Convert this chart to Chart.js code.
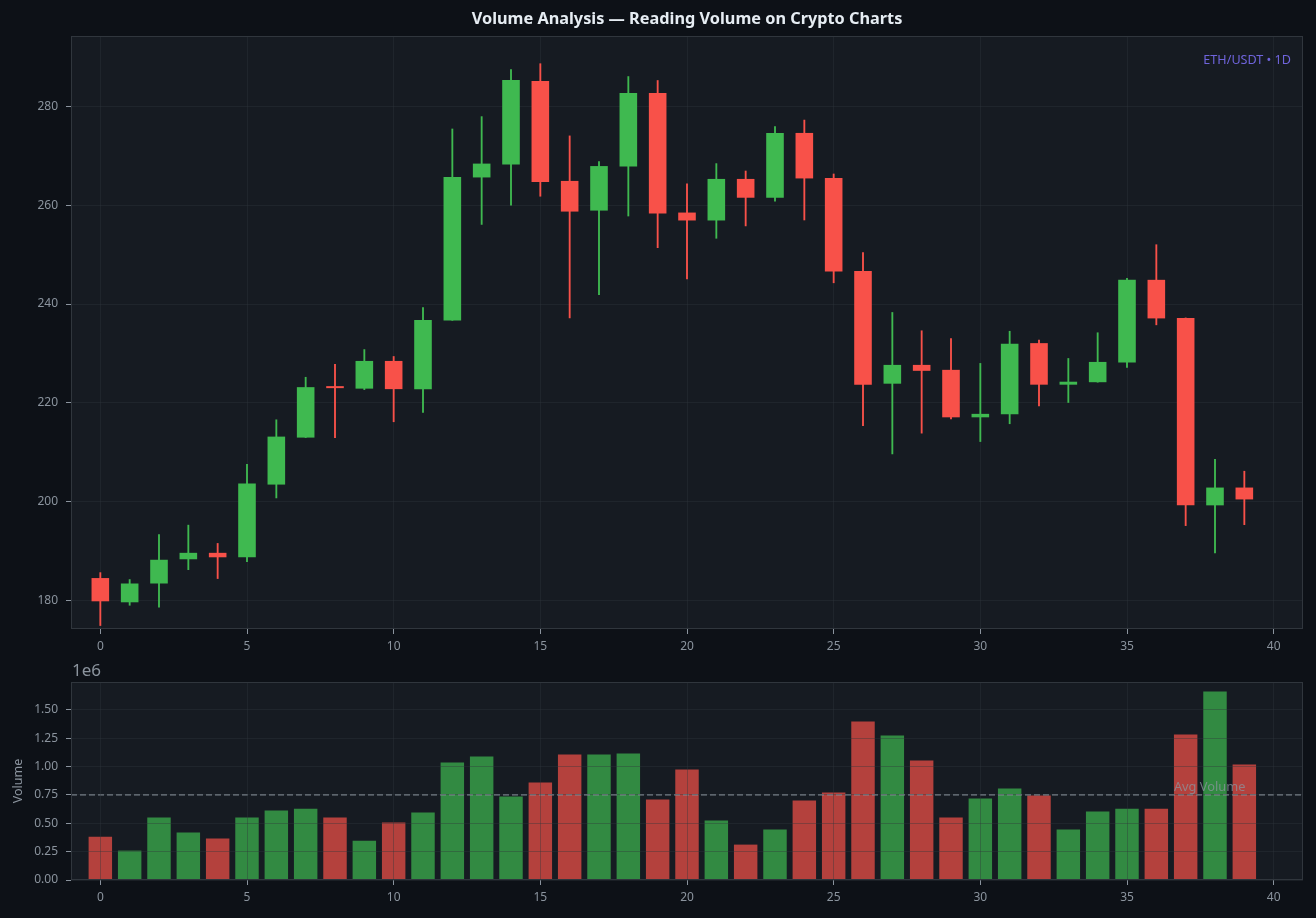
<!DOCTYPE html>
<html><head><meta charset="utf-8">
<script src="https://cdn.jsdelivr.net/npm/chart.js@4.4.1/dist/chart.umd.min.js"></script>
<style>
html,body{margin:0;padding:0;background:#0d1117;}
#wrap{position:relative;width:1316px;height:918px;background:#0d1117;overflow:hidden}
canvas{position:absolute;left:0}
</style></head><body>
<div id="wrap">
<canvas id="c1" width="1316" height="650" style="top:0"></canvas>
<canvas id="c2" width="1316" height="268" style="top:650px"></canvas>
</div>
<script>
const days = [0,1,2,3,4,5,6,7,8,9,10,11,12,13,14,15,16,17,18,19,20,21,22,23,24,25,26,27,28,29,30,31,32,33,34,35,36,37,38,39];
const opens  = [184.6,179.7,183.5,188.4,189.7,188.8,203.5,213.0,223.3,222.9,228.5,222.8,236.7,265.6,268.2,285.1,264.9,258.9,267.8,282.7,
                258.5,256.9,265.3,261.5,274.6,265.5,246.7,223.9,227.7,226.7,217.1,217.7,232.1,223.7,224.2,228.2,244.9,237.2,199.3,202.9];
const closes = [179.9,183.5,188.3,189.7,188.8,203.7,213.2,223.2,223.0,228.5,222.8,236.8,265.7,268.4,285.3,264.7,258.7,267.9,282.7,258.3,
                256.9,265.3,261.5,274.6,265.4,246.6,223.7,227.7,226.5,217.1,217.8,232.0,223.7,224.3,228.3,244.9,237.1,199.3,202.9,200.5];
const highs  = [185.7,184.3,193.4,195.3,191.6,207.6,216.6,225.2,227.8,230.8,229.4,239.3,275.4,277.9,287.4,288.6,274.0,268.8,286.0,285.2,
                264.3,268.4,266.9,275.9,277.2,266.3,250.4,238.3,234.6,233.0,228.0,234.5,232.7,229.0,234.2,245.2,252.0,237.2,208.6,206.2];
const lows   = [175.0,179.1,178.7,186.3,184.5,187.9,200.8,213.0,213.0,222.7,216.2,218.1,236.7,256.1,260.0,261.8,237.2,241.9,257.8,251.4,
                245.1,253.3,255.8,260.8,257.0,244.3,215.4,209.7,213.9,216.8,212.2,215.8,219.4,220.1,224.2,227.2,235.8,195.2,189.7,195.4];
const volumes = [382000,259000,550000,418000,365000,550000,612000,629000,550000,347000,506000,594000,1035000,1088000,735000,859000,1106000,1106000,1115000,709000,
                 974000,524000,312000,444000,700000,771000,1397000,1274000,1053000,550000,718000,806000,745000,444000,603000,629000,629000,1282000,1662000,1018000];
const priceTicks = [180,200,220,240,260,280];
const volumeTicks = [0,250000,500000,750000,1000000,1250000,1500000];
const dayTicks = [0,5,10,15,20,25,30,35,40];

const UP = '#3fb950', DOWN = '#f85149';
const UP_V = 'rgba(63,185,80,0.7)', DOWN_V = 'rgba(248,81,73,0.7)';
const FONT = '"Noto Sans", "DejaVu Sans", sans-serif';
const TICK_C = '#8b949e';
const GRID_C = 'rgba(48,54,61,0.38)';
const isUp = days.map((d,i)=>closes[i] >= opens[i]);
const candleColors = isUp.map(u => u ? UP : DOWN);
const volColors = isUp.map(u => u ? UP_V : DOWN_V);
const avgVol = volumes.reduce((a,b)=>a+b,0)/volumes.length;

const framePlugin = {
  id:'frame',
  beforeDraw(chart){
    const {ctx, chartArea:a} = chart;
    ctx.save();
    ctx.fillStyle = '#0d1117';
    ctx.fillRect(0,0,chart.width,chart.height);
    ctx.fillStyle = '#161b22';
    ctx.fillRect(a.left,a.top,a.right-a.left,a.bottom-a.top);
    ctx.restore();
  },
  afterDraw(chart){
    const {ctx, chartArea:a} = chart;
    ctx.save();
    ctx.strokeStyle = '#30363d';
    ctx.lineWidth = 1;
    ctx.strokeRect(a.left+0.5,a.top+0.5,a.right-a.left-1,a.bottom-a.top-1);
    ctx.restore();
  }
};

const tickSet = (vals) => function(scale){ scale.ticks = vals.map(v=>({value:v})); };

function gridOpts(z){
  return {color:GRID_C, tickColor:TICK_C, tickLength:5, lineWidth:1, offset:false, z:z};
}

function xScale(heightPx, z){
  return {
    type:'linear', min:-1, max:41, offset:false,
    afterBuildTicks: tickSet(dayTicks),
    ticks:{color:TICK_C, font:{size:12, family:FONT}, padding:5, callback:v=>String(v), maxRotation:0, autoSkip:false},
    grid:gridOpts(z),
    border:{display:false},
    afterFit(s){ s.height = heightPx; }
  };
}

const textPlugin1 = {
  id:'texts1',
  afterDraw(chart){
    const {ctx, chartArea:a} = chart;
    ctx.save();
    ctx.fillStyle = '#e6edf3';
    ctx.font = 'bold 16.3px ' + FONT;
    ctx.textAlign = 'center';
    ctx.textBaseline = 'middle';
    ctx.fillText('Volume Analysis — Reading Volume on Crypto Charts', (a.left+a.right)/2, 19);
    ctx.fillStyle = '#6f64dc';
    ctx.font = '12.6px ' + FONT;
    ctx.textAlign = 'right';
    ctx.fillText('ETH/USDT • 1D', a.right - 12, 60);
    ctx.restore();
  }
};

new Chart(document.getElementById('c1'), {
  type:'bar',
  data:{datasets:[
    {label:'Body', data: days.map((d,i)=>({x:d, y:[opens[i], closes[i]]})), backgroundColor:candleColors,
     barPercentage:0.6, categoryPercentage:1, grouped:false, minBarLength:2, order:1},
    {label:'Wick', data: days.map((d,i)=>({x:d, y:[lows[i], highs[i]]})), backgroundColor:candleColors,
     barThickness:1.2, grouped:false, order:2}
  ]},
  options:{
    responsive:false, animation:false, devicePixelRatio:1,
    layout:{padding:{top:36, right:13, left:0, bottom:0}},
    plugins:{legend:{display:false}, tooltip:{enabled:false}, title:{display:false}},
    scales:{
      x: xScale(21, -1),
      y:{
        min:174.3, max:294.2,
        afterBuildTicks: tickSet(priceTicks),
        ticks:{color:TICK_C, font:{size:12, family:FONT}, padding:8, callback:v=>String(v)},
        grid:gridOpts(-1),
        border:{display:false},
        afterFit(s){ s.width = 71; }
      }
    }
  },
  plugins:[framePlugin, textPlugin1]
});

const textPlugin2 = {
  id:'texts2',
  afterDraw(chart){
    const {ctx, chartArea:a, scales} = chart;
    ctx.save();
    ctx.fillStyle = TICK_C;
    ctx.font = '17px ' + FONT;
    ctx.textAlign = 'left';
    ctx.textBaseline = 'middle';
    ctx.fillText('1e6', a.left + 1, 21);
    ctx.font = '12.8px ' + FONT;
    ctx.fillStyle = 'rgba(139,148,158,0.75)';
    ctx.textBaseline = 'alphabetic';
    ctx.fillText('Avg Volume', scales.x.getPixelForValue(36.6), scales.y.getPixelForValue(avgVol) - 4);
    ctx.fillStyle = TICK_C;
    ctx.font = '12.5px ' + FONT;
    ctx.translate(18, (a.top + a.bottom)/2);
    ctx.rotate(-Math.PI/2);
    ctx.textAlign = 'center';
    ctx.textBaseline = 'middle';
    ctx.fillText('Volume', 0, 0);
    ctx.restore();
  }
};

new Chart(document.getElementById('c2'), {
  type:'bar',
  data:{datasets:[
    {type:'line', label:'Avg Volume', data:[{x:-1, y:avgVol},{x:41, y:avgVol}], borderColor:'rgba(139,148,158,0.85)',
     borderWidth:1.5, borderDash:[6,3], pointRadius:0, fill:false, order:0},
    {label:'Volume', data: days.map((d,i)=>({x:d, y:volumes[i]})), backgroundColor:volColors,
     barPercentage:0.8, categoryPercentage:1, order:1}
  ]},
  options:{
    responsive:false, animation:false, devicePixelRatio:1,
    layout:{padding:{top:32, right:13, left:0, bottom:0}},
    plugins:{legend:{display:false}, tooltip:{enabled:false}},
    scales:{
      x: xScale(38, 1),
      y:{
        min:0, max:Math.max(...volumes)*1.05,
        afterBuildTicks: tickSet(volumeTicks),
        ticks:{color:TICK_C, font:{size:12, family:FONT}, padding:8, callback:v=>(v/1e6).toFixed(2)},
        grid:gridOpts(1),
        border:{display:false},
        afterFit(s){ s.width = 71; }
      }
    }
  },
  plugins:[framePlugin, textPlugin2]
});
</script>
</body></html>
